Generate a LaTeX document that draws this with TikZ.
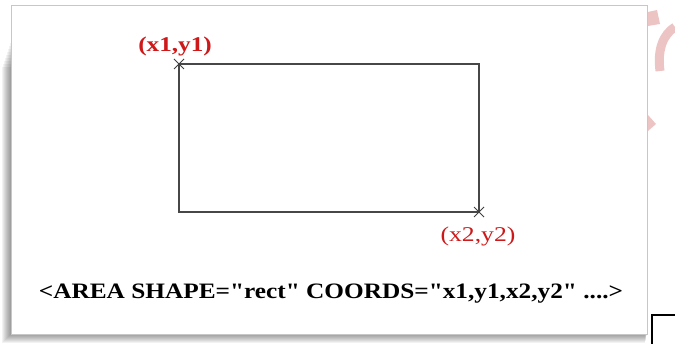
\documentclass[tikz,border=0pt]{standalone}
\usepackage{fontspec}
\setmainfont{Liberation Serif}
\usetikzlibrary{positioning}
\definecolor{lblred}{RGB}{205,25,25}
\definecolor{wpink}{RGB}{236,196,196}

\begin{document}
\begin{tikzpicture}[
  x=1pt, y=-1pt,
  node distance=8pt and 0pt,
  frame/.style={draw=black!22, fill=white, line width=1pt},
  area/.style={draw=black!72, line width=1.6pt},
  cross/.style={draw=black!75, line width=0.9pt},
  coordlbl/.style={text=lblred, inner sep=0pt},
  tag/.style={font=\fontsize{22}{22}\selectfont\bfseries, inner sep=0pt}
]

\useasboundingbox (0,0) rectangle (675,344);

% watermark
\fill[wpink] (648,12) -- (657,10) -- (660,24) -- (648,26) -- cycle;
\draw[wpink, line width=9pt] (660,71) .. controls (657,48) and (664,34) .. (675,27);
\fill[wpink] (648,115) -- (656,124) -- (648,131) -- cycle;

% shadow
\foreach \s in {1,...,9}
  \fill[black, opacity=0.05] (11-\s,40+3*\s) rectangle (647-0.2*\s,334+\s);

% frame
\node[frame, minimum width=636pt, minimum height=329pt, anchor=north west] (box) at (11,5) {};

% area
\coordinate (p1) at (179,64);
\coordinate (p2) at (479,212);
\draw[area] (p1) rectangle (p2);

\foreach \c in {p1,p2}
  \draw[cross] ([shift={(-5,-5)}]\c) -- ([shift={(5,5)}]\c)
               ([shift={(-5,5)}]\c) -- ([shift={(5,-5)}]\c);

\node[coordlbl, font=\fontsize{21}{21}\selectfont\bfseries, above=of p1, xshift=-4pt] (c1) {\scalebox{1.2}[1]{(x1,y1)}};
\node[coordlbl, font=\fontsize{21}{21}\selectfont, below=of p2, xshift=-1pt, yshift=-7pt] (c2) {\scalebox{1.22}[1]{(x2,y2)}};

\node[tag] (html) at (331,294) {\scalebox{1.15}[1]{<AREA SHAPE=\textquotedbl rect\textquotedbl{} COORDS=\textquotedbl x1,y1,x2,y2\textquotedbl{} ....>}};

% corner of next box
\coordinate (nb1) at (652,344);
\coordinate (nb2) at (675,315);
\draw[line width=1.5pt] (nb1) |- (nb2);

\end{tikzpicture}
\end{document}
